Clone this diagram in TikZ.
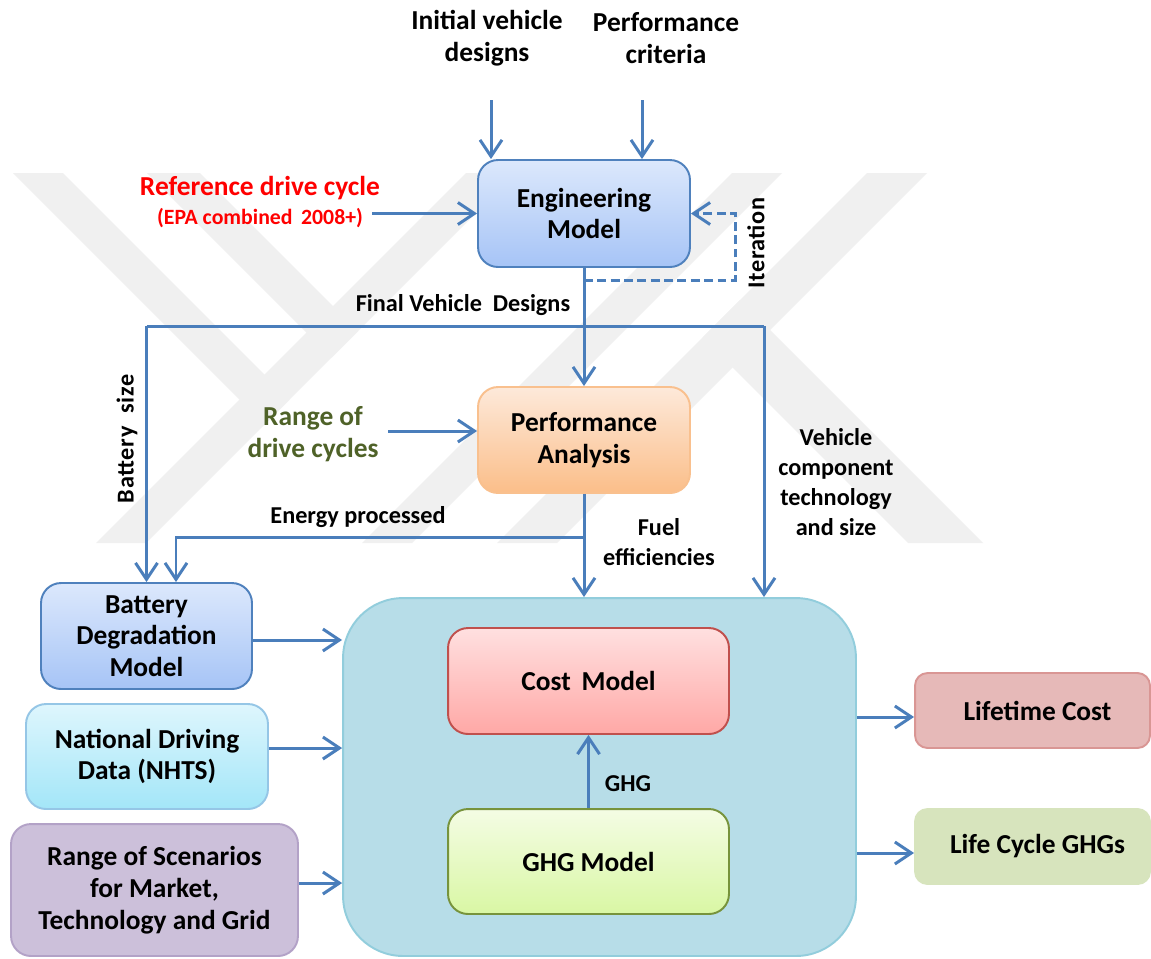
\documentclass[tikz,border=0pt]{standalone}
\usepackage{fontspec}
\setmainfont{Carlito}
\usetikzlibrary{arrows.meta}

\definecolor{flow}{HTML}{4A7EBB}
\definecolor{engtop}{HTML}{DCE8FC}
\definecolor{engbot}{HTML}{A6C4F6}
\definecolor{engline}{HTML}{4F81BD}
\definecolor{perftop}{HTML}{FDE9DA}
\definecolor{perfbot}{HTML}{FBBE89}
\definecolor{perfline}{HTML}{F9C08E}
\definecolor{nhtstop}{HTML}{DEF6FD}
\definecolor{nhtsbot}{HTML}{A3E6F8}
\definecolor{nhtsline}{HTML}{95C6E6}
\definecolor{scenfill}{HTML}{CCC0DA}
\definecolor{scenline}{HTML}{B3A2C7}
\definecolor{contfill}{HTML}{B7DDE8}
\definecolor{contline}{HTML}{92CDDC}
\definecolor{costtop}{HTML}{FFE0E0}
\definecolor{costbot}{HTML}{FFA8A6}
\definecolor{costline}{HTML}{C0504D}
\definecolor{ghgtop}{HTML}{F4FCE4}
\definecolor{ghgbot}{HTML}{D9F7A4}
\definecolor{ghgline}{HTML}{77933C}
\definecolor{lifefill}{HTML}{E6B9B8}
\definecolor{lifeline}{HTML}{D99694}
\definecolor{lcgfill}{HTML}{D7E4BD}
\definecolor{olivetext}{HTML}{4F6228}
\definecolor{wmark}{HTML}{F0F0F0}

\tikzset{
  bigfont/.style={font=\fontsize{15.6}{18.1}\selectfont\bfseries},
  smallfont/.style={font=\fontsize{13.8}{17}\selectfont\bfseries},
  box/.style={rectangle, rounded corners=0.4cm, inner sep=0pt, align=center,
    line width=1.1pt, bigfont},
  lbl/.style={inner sep=0pt, align=center, smallfont},
  txt/.style={inner sep=0pt, align=center, bigfont},
  flowline/.style={draw=flow, line width=1.7pt},
  arr/.style={flowline, -{Straight Barb[length=0.33cm,width=0.44cm]}},
  dasharr/.style={arr, dash pattern=on 5pt off 2.6pt},
  wm/.style={fill=wmark}
}

\begin{document}
\begin{tikzpicture}[x=0.02cm,y=-0.02cm]
\useasboundingbox (0,0) rectangle (1151,958);
\fill[white] (0,0) rectangle (1151,958);

% faint background emblem
\fill[wm] (13,173) -- (63,173) -- (289.5,399.5) -- (264.5,424.5) -- cycle;
\fill[wm] (466,173) -- (516,173) -- (146,543) -- (96,543) -- cycle;
\fill[wm] (147,173) -- (200,173) -- (358,331) -- (331.5,357.5) -- cycle;
\fill[wm] (732,173) -- (782,173) -- (412,543) -- (362,543) -- cycle;
\fill[wm] (867,173) -- (927,173) -- (557,543) -- (497,543) -- cycle;
\fill[wm] (740,300) -- (983,543) -- (908,543) -- (702.5,337.5) -- cycle;

% inputs at the top
\node[txt] (ivd) at (487,38) {Initial vehicle\\designs};
\node[txt] (pc) at (666,38) {Performance\\criteria};
\coordinate (ivdtail) at (491,100);
\coordinate (pctail) at (642,100);

% model boxes
\node[box, draw=engline, top color=engtop, bottom color=engbot,
      minimum width=4.24cm, minimum height=2.14cm] (eng) at (584,213.5) {Engineering\\Model};
\node[box, draw=perfline, top color=perftop, bottom color=perfbot,
      minimum width=4.24cm, minimum height=2.12cm] (perf) at (584,440) {Performance\\Analysis};
\node[box, draw=engline, top color=engtop, bottom color=engbot,
      minimum width=4.22cm, minimum height=2.12cm] (bat) at (146.5,636) {Battery\\Degradation\\Model};
\node[box, draw=nhtsline, top color=nhtstop, bottom color=nhtsbot,
      minimum width=4.84cm, minimum height=2.1cm] (nhts) at (147,756.5) {National Driving\\Data (NHTS)};
\node[box, draw=scenline, fill=scenfill,
      minimum width=5.74cm, minimum height=2.64cm] (scen) at (154.5,890) {Range of Scenarios\\for Market,\\Technology and Grid};
\node[box, rounded corners=1.2cm, draw=contline, fill=contfill,
      minimum width=10.26cm, minimum height=7.16cm] (cont) at (599.5,777) {};
\node[box, draw=costline, top color=costtop, bottom color=costbot,
      minimum width=5.62cm, minimum height=2.12cm] (cost) at (588.5,681) {Cost\,\ Model};
\node[box, draw=ghgline, top color=ghgtop, bottom color=ghgbot,
      minimum width=5.62cm, minimum height=2.1cm] (ghg) at (588.5,861.5) {GHG Model};
\node[box, rounded corners=0.25cm, draw=lifeline, fill=lifefill,
      minimum width=4.7cm, minimum height=1.5cm] (life) at (1032.5,710.5) {\hspace*{0.2cm}Lifetime Cost};
\node[box, rounded corners=0.25cm, draw=lcgfill, fill=lcgfill,
      minimum width=4.7cm, minimum height=1.5cm] (lcg) at (1032.5,846.5) {\hspace*{0.2cm}Life Cycle GHGs};

% side inputs
\node[txt, text=red] (ref1) at (260,188) {Reference drive cycle};
\node[inner sep=0pt, text=red, font=\fontsize{12.4}{14}\selectfont\bfseries] (ref2) at (260,218) {(EPA combined\, 2008+)};
\node[txt, text=olivetext] (rdc) at (313,434) {Range of\\drive cycles};
\coordinate (rdctail) at (388,431);

% connector labels
\node[lbl] (fvd) at (463,305) {Final Vehicle\ \ Designs};
\node[lbl, rotate=90] (bsz) at (127,439) {\addfontfeature{LetterSpace=3}Battery\ \ size};
\node[lbl, rotate=90] (itl) at (756,243) {\addfontfeature{LetterSpace=2}Iteration};
\node[lbl] (ep) at (358,517) {Energy processed};
\node[lbl] (fe) at (659,542) {Fuel\\efficiencies};
\node[lbl] (vct) at (836,482) {Vehicle\\component\\technology\\and size};
\node[lbl] (ghgl) at (628,784) {GHG};

% helper points for the routed connectors
\coordinate (itA) at (584,280);
\coordinate (itB) at (735,280);
\coordinate (busL) at (146.5,326);
\coordinate (busR) at (764,326);
\coordinate (epR) at (584,537);
\coordinate (epL) at (176,537);
\coordinate (yb) at (0,640);
\coordinate (yn) at (0,748);
\coordinate (ys) at (0,883);
\coordinate (yl) at (0,717);
\coordinate (yg) at (0,853);

% top inputs into the engineering model
\draw[arr] (ivdtail) -- (ivdtail |- eng.north);
\draw[arr] (pctail) -- (pctail |- eng.north);
\draw[arr, shorten <=0.18cm] (eng.west -| ref2.east) -- (eng.west);

% iteration loop
\draw[dasharr] (itA) -- (itB) |- (eng.east);

% final designs distribution
\draw[arr] (eng.south) -- (perf.north);
\draw[flowline] (busL) -- (busR);
\draw[arr] (busL) -- (bat.north);
\draw[arr] (busR) -- (busR |- cont.north);

% performance analysis
\draw[arr] (rdctail) -- (rdctail -| perf.west);
\draw[arr] (perf.south) -- (perf.south |- cont.north);
\draw[arr] (epR) -- (epL) -- (epL |- bat.north);

% inputs into the cost and emissions block
\draw[arr] (bat.east |- yb) -- (cont.west |- yb);
\draw[arr] (nhts.east |- yn) -- (cont.west |- yn);
\draw[arr] (scen.east |- ys) -- (cont.west |- ys);
\draw[arr] (ghg.north) -- (cost.south);

% outputs
\draw[arr] (cont.east |- yl) -- (life.west |- yl);
\draw[arr] (cont.east |- yg) -- (lcg.west |- yg);
\end{tikzpicture}
\end{document}
